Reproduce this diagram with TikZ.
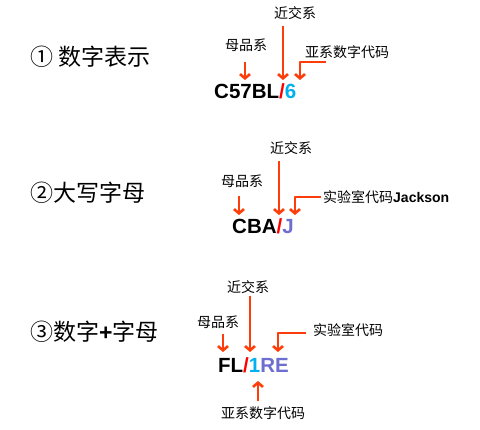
\documentclass[tikz,border=0pt]{standalone}
\usepackage{fontspec}
\setmainfont{Liberation Sans}
\newfontfamily\cjk{Noto Sans CJK SC}
\usetikzlibrary{arrows.meta}
\definecolor{arrowred}{HTML}{FF3D0A}
\definecolor{slashred}{HTML}{FF0000}
\definecolor{subblue}{HTML}{00B0F0}
\definecolor{labpurple}{HTML}{6E6ED2}
\tikzset{
	title/.style={anchor=west,inner sep=0pt,font=\cjk\fontsize{23}{25}\selectfont},
	lbl/.style={font=\cjk\fontsize{14}{16}\selectfont,inner sep=0pt},
	code/.style={font=\fontsize{20.5}{22}\selectfont\bfseries,inner sep=0pt},
	pointer/.style={arrowred,line width=2.6pt,-{Straight Barb[length=4.2pt,width=10pt]}},
}
\begin{document}
\begin{tikzpicture}[x=1pt,y=-1pt,line join=round]
	\useasboundingbox (0,0) rectangle (480,430);
	% 1
	\node[title] (t1) at (30,57) {① 数字表示};
	\node[code,anchor=base west] (c1) at (214,99) {C57BL{\color{slashred}/}{\color{subblue}6}};
	\node[lbl] (n1) at (295,13) {近交系};
	\node[lbl] (m1) at (246,45) {母品系};
	\node[lbl,anchor=west] (s1) at (305,52) {亚系数字代码};
	\path (245,62) coordinate (m1a) (245,80) coordinate (m1b)
	(283,26) coordinate (n1a) (283,80) coordinate (n1b)
	(326,62) coordinate (s1a) (300,80) coordinate (s1b);
	% 2
	\node[title] (t2) at (30,193) {②大写字母};
	\node[code,anchor=base west] (c2) at (232,234) {CBA{\color{slashred}/}{\color{labpurple}J}};
	\node[lbl] (n2) at (291,148) {近交系};
	\node[lbl] (m2) at (242,181) {母品系};
	\node[lbl,anchor=west] (s2) at (323,197) {实验室代码{\rmfamily\bfseries Jackson}};
	\path (239,196) coordinate (m2a) (239,215) coordinate (m2b)
	(279,161) coordinate (n2a) (279,215) coordinate (n2b)
	(321,197) coordinate (s2a) (295,215) coordinate (s2b);
	% 3
	\node[title] (t3) at (30,332) {③数字{\rmfamily\bfseries+}字母};
	\node[code,anchor=base west] (c3) at (218,373) {FL{\color{slashred}/}{\color{subblue}1}{\color{labpurple}RE}};
	\node[lbl] (n3) at (248,287) {近交系};
	\node[lbl] (m3) at (218,322) {母品系};
	\node[lbl,anchor=west] (s3) at (313,330) {实验室代码};
	\node[lbl] (u3) at (263,413) {亚系数字代码};
	\path (223,334) coordinate (m3a) (223,352) coordinate (m3b)
	(250,296) coordinate (n3a) (250,352) coordinate (n3b)
	(306,333) coordinate (s3a) (278,352) coordinate (s3b)
	(258,401) coordinate (u3a) (258,381) coordinate (u3b);
	\foreach \i in {1,2,3}{
		\draw[pointer] (m\i a)--(m\i b);
		\draw[pointer] (n\i a)--(n\i b);
		\draw[pointer] (s\i a)-|(s\i b);
	}
	\draw[pointer] (u3a)--(u3b);
\end{tikzpicture}
\end{document}
